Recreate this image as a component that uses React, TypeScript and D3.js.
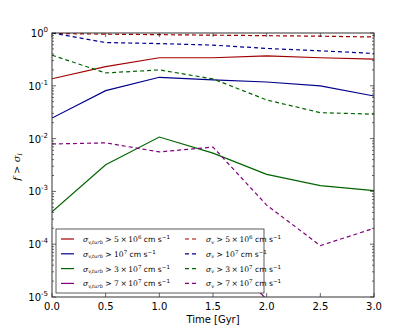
import React from 'react';
import * as d3 from 'd3';

const times = [0, 0.5, 1.0, 1.5, 2.0, 2.5, 3.0];

// sigma_v,turb thresholds (solid)
const turb5e6 = [0.136, 0.23, 0.34, 0.34, 0.37, 0.34, 0.32];
const turb1e7 = [0.0245, 0.081, 0.145, 0.13, 0.118, 0.1, 0.064];
const turb3e7 = [0.00041, 0.0032, 0.0107, 0.0053, 0.0021, 0.00129, 0.00103];
const turb7e7 = [0, 0, 0.00005, 0.0001, 0.000009, 0, 0];

// sigma_v thresholds (dashed)
const v5e6 = [0.98, 0.95, 0.93, 0.91, 0.89, 0.87, 0.84];
const v1e7 = [1.0, 0.66, 0.63, 0.59, 0.51, 0.46, 0.41];
const v3e7 = [0.38, 0.175, 0.2, 0.135, 0.054, 0.031, 0.029];
const v7e7 = [0.0079, 0.0083, 0.0056, 0.0069, 0.00055, 0.000094, 0.0002];

const xTicks = [0, 0.5, 1.0, 1.5, 2.0, 2.5, 3.0];
const yExps = [0, -1, -2, -3, -4, -5];
const legendCoefs = ['5\u2009\u00d7\u200910', '10', '3\u2009\u00d7\u200910', '7\u2009\u00d7\u200910'];
const legendExps = ['6', '7', '7', '7'];

const colors = ['#a00000', '#00008b', '#006400', '#800080'];
const solidSeries = [turb5e6, turb1e7, turb3e7, turb7e7];
const dashedSeries = [v5e6, v1e7, v3e7, v7e7];

const W = 415;
const H = 332;
const m = { left: 52, right: 41, top: 33, bottom: 35 };
const font = 'DejaVu Sans, sans-serif';
const serif = 'DejaVu Serif, serif';

function LegendText({ x, y, sub, i }: { x: number; y: number; sub: string; i: number }) {
  return (
    <text x={x} y={y} fontSize={7.6} fill="#000">
      <tspan fontStyle="italic" fontFamily={serif}>σ</tspan>
      <tspan dy={1.5} fontSize={5} fontStyle="italic" fontFamily={serif}>
        {sub}
      </tspan>
      <tspan dy={-1.5} fontFamily={serif}>
        {' > ' + legendCoefs[i]}
      </tspan>
      <tspan dy={-3} fontSize={5.5} fontFamily={serif}>
        {legendExps[i]}
      </tspan>
      <tspan dy={3}>{' cm s'}</tspan>
      <tspan dy={-3} fontSize={5.5}>
        −1
      </tspan>
    </text>
  );
}

export default function App() {
  const x = d3.scaleLinear().domain([0, 3]).range([m.left, W - m.right]);
  const y = d3.scaleLog().domain([1e-5, 1]).range([H - m.bottom, m.top]);
  const line = d3
    .line<[number, number]>()
    .defined(d => d[1] > 0)
    .x(d => x(d[0]))
    .y(d => y(d[1]));
  const pts = (vals: number[]) => times.map((t, i) => [t, vals[i]] as [number, number]);

  const x0 = m.left;
  const x1 = W - m.right;
  const y0 = m.top;
  const y1 = H - m.bottom;

  const minor: number[] = [];
  for (let e = -5; e < 0; e++) {
    for (let k = 2; k < 10; k++) minor.push(k * Math.pow(10, e));
  }

  const lx = 56;
  const ly = 229;
  const rowH = 14.8;

  return (
    <svg
      width={W}
      height={H}
      style={{ position: 'absolute', left: 0, top: 0, background: '#fff' }}
      fontFamily={font}
    >
      <defs>
        <clipPath id="plot">
          <rect x={x0} y={y0} width={x1 - x0} height={y1 - y0} />
        </clipPath>
      </defs>
      <g clipPath="url(#plot)" fill="none" strokeWidth={1.2}>
        {solidSeries.map((s, i) => (
          <path key={'s' + i} d={line(pts(s)) || ''} stroke={colors[i]} />
        ))}
        {dashedSeries.map((s, i) => (
          <path
            key={'d' + i}
            d={line(pts(s)) || ''}
            stroke={colors[i]}
            strokeDasharray="4,3"
          />
        ))}
      </g>

      {/* ticks, inward on all sides */}
      <g stroke="#000" strokeWidth={0.6}>
        {xTicks.map(t => (
          <g key={t}>
            <line x1={x(t)} x2={x(t)} y1={y1} y2={y1 - 4} />
            <line x1={x(t)} x2={x(t)} y1={y0} y2={y0 + 4} />
          </g>
        ))}
        {yExps.map(e => (
          <g key={e}>
            <line x1={x0} x2={x0 + 4} y1={y(Math.pow(10, e))} y2={y(Math.pow(10, e))} />
            <line x1={x1} x2={x1 - 4} y1={y(Math.pow(10, e))} y2={y(Math.pow(10, e))} />
          </g>
        ))}
        {minor.map(v => (
          <g key={v}>
            <line x1={x0} x2={x0 + 2} y1={y(v)} y2={y(v)} />
            <line x1={x1} x2={x1 - 2} y1={y(v)} y2={y(v)} />
          </g>
        ))}
      </g>
      <rect x={x0} y={y0} width={x1 - x0} height={y1 - y0} fill="none" stroke="#333" strokeWidth={1} />

      {/* tick labels */}
      <g fontSize={10} fill="#000">
        {xTicks.map(t => (
          <text key={t} x={x(t)} y={y1 + 13} textAnchor="middle">
            {t.toFixed(1)}
          </text>
        ))}
        {yExps.map(e => (
          <text key={e} x={x0 - 4} y={y(Math.pow(10, e)) + 4} textAnchor="end">
            10
            <tspan dy={-5} fontSize={7}>
              {e === 0 ? '0' : '-' + -e}
            </tspan>
          </text>
        ))}
      </g>
      <text x={(x0 + x1) / 2} y={H - 9} textAnchor="middle" fontSize={10}>
        Time [Gyr]
      </text>
      <text
        transform={`translate(20, ${(y0 + y1) / 2 + 2}) rotate(-90)`}
        textAnchor="middle"
        fontSize={10}
        fontStyle="italic"
        fontFamily={serif}
      >
        f {'>'} σ
        <tspan dy={2} fontSize={7}>i</tspan>
      </text>

      {/* legend */}
      <rect x={lx} y={ly} width={208} height={64} fill="#fff" stroke="#333" strokeWidth={0.8} />
      {colors.map((c, i) => {
        const ry = ly + 10 + i * rowH;
        return (
          <g key={c}>
            <line x1={lx + 5} x2={lx + 18} y1={ry} y2={ry} stroke={c} strokeWidth={1.2} />
            <LegendText x={lx + 27} y={ry + 3} sub="v,turb" i={i} />
            <line
              x1={lx + 129}
              x2={lx + 142}
              y1={ry}
              y2={ry}
              stroke={c}
              strokeWidth={1.2}
              strokeDasharray="4,3"
            />
            <LegendText x={lx + 150} y={ry + 3} sub="v" i={i} />
          </g>
        );
      })}
    </svg>
  );
}
